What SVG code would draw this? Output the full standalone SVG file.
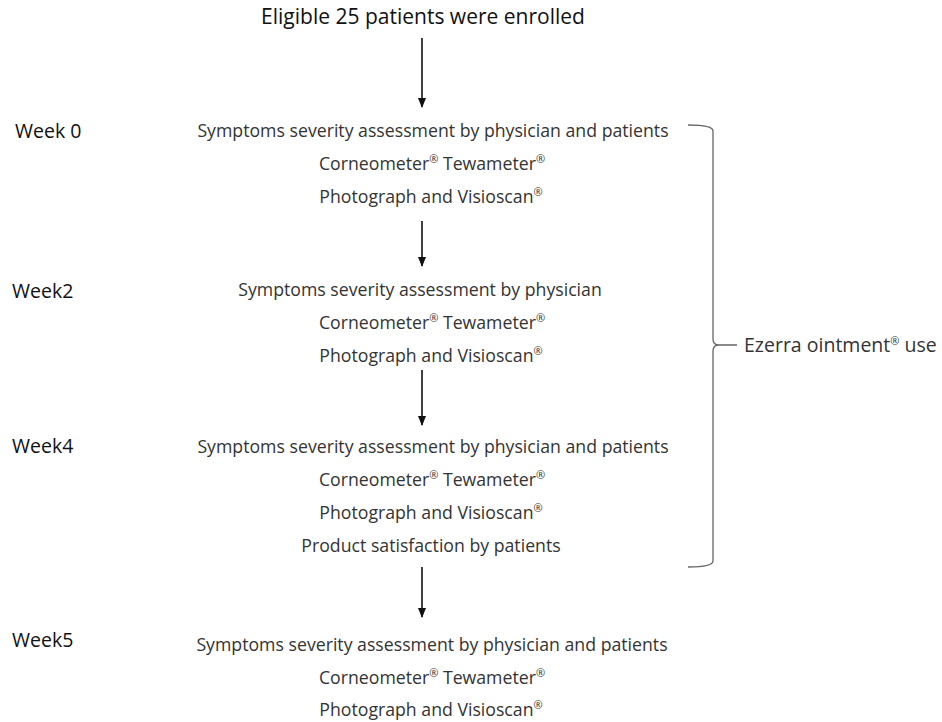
<svg xmlns="http://www.w3.org/2000/svg" width="942" height="722" viewBox="0 0 942 722">
<defs>
<style>
text{font-family:"Open Sans","Noto Sans","DejaVu Sans",sans-serif;fill:#333}
.t{font-size:21px;text-anchor:middle;fill:#111;font-weight:500}
.wk{font-size:19.5px;fill:#111}
.b{font-size:17.7px;text-anchor:middle}
.lbl{font-size:19.5px}
.sup{font-size:11px}
.con{stroke:#111;stroke-width:1.6;fill:none}
.br{stroke:#666;stroke-width:1.3;fill:none}
</style>
<marker id="ah" markerWidth="10" markerHeight="12" refX="9" refY="5" orient="auto" markerUnits="userSpaceOnUse">
<path d="M0,1 L10,5 L0,9 Z" fill="#111"/>
</marker>
</defs>
<rect width="942" height="722" fill="#fff"/>
<g id="enrolled"><text class="t" x="423" y="24">Eligible 25 patients were enrolled</text></g>
<g id="week0">
<text class="wk" x="15" y="138">Week 0</text>
<text class="b" x="433" y="137">Symptoms severity assessment by physician and patients</text>
<text class="b" x="432" y="170">Corneometer<tspan class="sup" dy="-7">®</tspan><tspan dy="7"> Tewameter</tspan><tspan class="sup" dy="-7">®</tspan></text>
<text class="b" x="431" y="203">Photograph and Visioscan<tspan class="sup" dy="-7">®</tspan></text>
</g>
<g id="week2">
<text class="wk" x="12" y="298">Week2</text>
<text class="b" x="420" y="296">Symptoms severity assessment by physician</text>
<text class="b" x="432" y="329">Corneometer<tspan class="sup" dy="-7">®</tspan><tspan dy="7"> Tewameter</tspan><tspan class="sup" dy="-7">®</tspan></text>
<text class="b" x="431" y="362">Photograph and Visioscan<tspan class="sup" dy="-7">®</tspan></text>
</g>
<g id="week4">
<text class="wk" x="12" y="453">Week4</text>
<text class="b" x="433" y="453">Symptoms severity assessment by physician and patients</text>
<text class="b" x="432" y="486">Corneometer<tspan class="sup" dy="-7">®</tspan><tspan dy="7"> Tewameter</tspan><tspan class="sup" dy="-7">®</tspan></text>
<text class="b" x="431" y="519">Photograph and Visioscan<tspan class="sup" dy="-7">®</tspan></text>
<text class="b" x="431" y="552">Product satisfaction by patients</text>
</g>
<g id="week5">
<text class="wk" x="12" y="647">Week5</text>
<text class="b" x="432" y="651">Symptoms severity assessment by physician and patients</text>
<text class="b" x="432" y="684">Corneometer<tspan class="sup" dy="-7">®</tspan><tspan dy="7"> Tewameter</tspan><tspan class="sup" dy="-7">®</tspan></text>
<text class="b" x="431" y="716">Photograph and Visioscan<tspan class="sup" dy="-7">®</tspan></text>
</g>
<g id="ointment">
<path class="br" d="M688,125 Q713,125 713,131 L713,339 Q713,345 719,345 L737,345 M719,345 Q713,345 713,351 L713,561 Q713,567 688,567"/>
<text class="lbl" x="744" y="352">Ezerra ointment<tspan class="sup" dy="-7">®</tspan><tspan dy="7"> use</tspan></text>
</g>
<g id="connectors">
<line class="con" x1="422" y1="38" x2="422" y2="107" marker-end="url(#ah)"/>
<line class="con" x1="422" y1="221" x2="422" y2="266" marker-end="url(#ah)"/>
<line class="con" x1="422" y1="370" x2="422" y2="425" marker-end="url(#ah)"/>
<line class="con" x1="422" y1="567" x2="422" y2="617" marker-end="url(#ah)"/>
</g>
</svg>
